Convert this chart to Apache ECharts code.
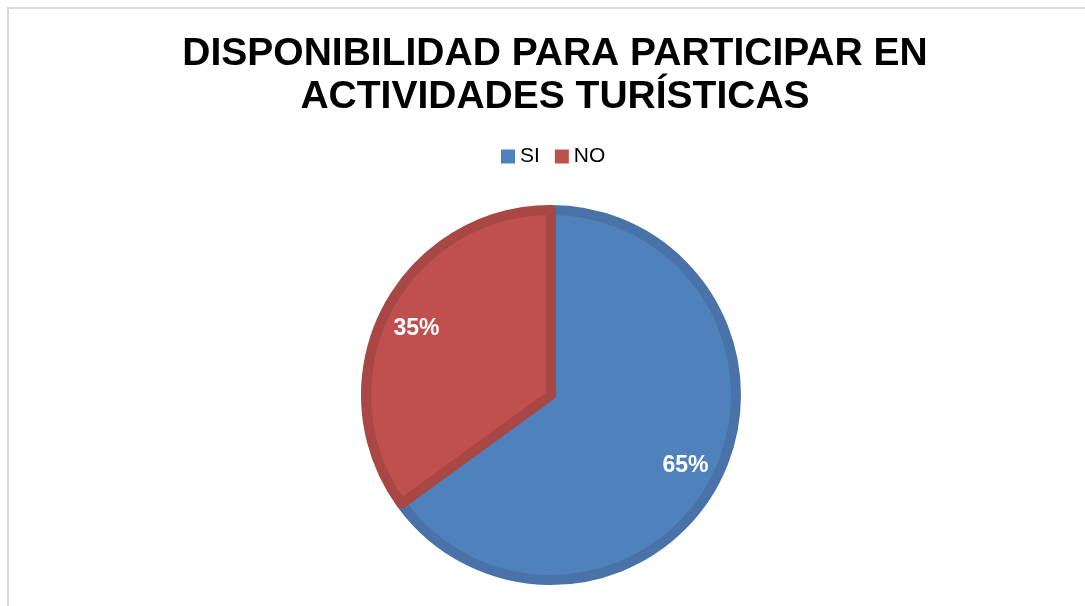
<!DOCTYPE html>
<html>
<head>
<meta charset="utf-8">
<script src="https://cdn.jsdelivr.net/npm/echarts@6/dist/echarts.min.js"></script>
<style>
  html, body { margin: 0; padding: 0; background: #fff; }
  #frame {
    position: absolute; left: 7px; top: 7px; width: 1100px; height: 620px;
    border: 2px solid #d9d9d9; box-sizing: border-box;
  }
  #chart { position: absolute; left: 0; top: 0; width: 1085px; height: 606px; }
</style>
</head>
<body>
<div id="frame"></div>
<div id="chart"></div>
<script>
  // datos
  const categories = ["SI", "NO"];
  const values = [65, 35];
  const colors = ["#4F81BD", "#C0504D"];
  const borders = ["#4872A8", "#A94744"];

  let myEchart = echarts.init(document.querySelector("#chart"));

  let pieData = categories.map(function (c, i) {
    return {
      name: c,
      value: values[i],
      itemStyle: { color: colors[i], borderColor: borders[i] },
    };
  });

  let options = {
    title: {
      text: "DISPONIBILIDAD PARA PARTICIPAR EN\nACTIVIDADES TURÍSTICAS",
      left: 550,
      textAlign: "center",
      top: 28,
      textStyle: {
        fontFamily: "Liberation Sans, Arial",
        fontWeight: "bold",
        fontSize: 39,
        lineHeight: 43,
        color: "#000",
      },
    },
    legend: {
      data: categories,
      top: 146,
      left: 501,
      icon: "rect",
      itemWidth: 14,
      itemHeight: 14,
      itemGap: 15,
      padding: 0,
      itemStyle: { borderWidth: 0 },
      textStyle: {
        fontFamily: "Liberation Sans, Arial",
        fontSize: 21,
        color: "#000",
      },
    },
    series: [
      {
        name: "pie",
        type: "pie",
        center: [551, 395],
        radius: 185,
        startAngle: 90,
        clockwise: true,
        silent: true,
        itemStyle: { borderWidth: 10 },
        label: { show: false },
        labelLine: { show: false },
        data: pieData,
      },
      {
        // solo etiquetas
        name: "labels",
        type: "pie",
        center: [551, 397],
        radius: [100, 196],
        startAngle: 90,
        clockwise: true,
        silent: true,
        itemStyle: { color: "transparent" },
        label: {
          show: true,
          position: "inside",
          formatter: "{c}%",
          color: "#fff",
          fontFamily: "Liberation Sans, Arial",
          fontWeight: "bold",
          fontSize: 23,
        },
        labelLine: { show: false },
        data: categories.map(function (c, i) {
          return { name: c + " ", value: values[i] };
        }),
      },
    ],
  };
  myEchart.setOption(options);
</script>
</body>
</html>
